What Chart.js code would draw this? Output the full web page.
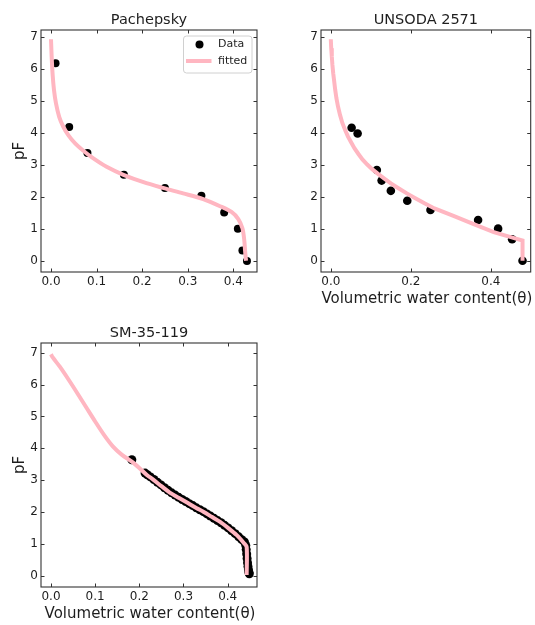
<!DOCTYPE html>
<html>
<head>
<meta charset="utf-8">
<script src="https://cdn.jsdelivr.net/npm/chart.js@4.4.1/dist/chart.umd.min.js"></script>
<style>
  html, body { margin: 0; padding: 0; background: #fff; overflow: hidden; }
  #wrap { position: relative; width: 535px; height: 625px; }
  canvas { position: absolute; left: 0; top: 0; }
</style>
</head>
<body>
<div id="wrap">
  <canvas id="c1" width="535" height="625"></canvas>
  <canvas id="c2" width="535" height="625"></canvas>
  <canvas id="c3" width="535" height="625"></canvas>
</div>
<script>
// Pachepsky
const pachTheta = [0.01, 0.04, 0.08, 0.16, 0.25, 0.33, 0.38, 0.41, 0.42, 0.43];
const pachPF = [6.17, 4.18, 3.37, 2.69, 2.28, 2.04, 1.51, 1.01, 0.33, 0.0];
const pachFitTheta = [0.0, 0.0015, 0.0037, 0.0066, 0.011, 0.018, 0.027, 0.038, 0.053, 0.071, 0.093, 0.122, 0.159, 0.203, 0.246, 0.29, 0.334, 0.371, 0.396, 0.411, 0.42, 0.424, 0.426, 0.428];
const pachFitPF = [6.92, 6.38, 5.80, 5.34, 4.92, 4.50, 4.19, 3.93, 3.67, 3.44, 3.20, 2.94, 2.69, 2.46, 2.28, 2.11, 1.93, 1.71, 1.53, 1.31, 1.02, 0.66, 0.29, 0.01];

// UNSODA 2571
const unsTheta = [0.052, 0.067, 0.115, 0.127, 0.150, 0.191, 0.249, 0.368, 0.418, 0.453, 0.479];
const unsPF = [4.16, 3.98, 2.84, 2.51, 2.19, 1.88, 1.59, 1.28, 1.01, 0.68, 0.01];
const unsFitTheta = [0.0, 0.001, 0.0025, 0.004, 0.006, 0.0085, 0.011, 0.014, 0.018, 0.023, 0.029, 0.036, 0.043, 0.051, 0.059, 0.069, 0.079, 0.091, 0.104, 0.118, 0.133, 0.15, 0.169, 0.19, 0.21, 0.234, 0.259, 0.308, 0.357, 0.407, 0.456, 0.479, 0.479];
const unsFitPF = [6.92, 6.64, 6.38, 6.12, 5.86, 5.60, 5.34, 5.08, 4.82, 4.56, 4.30, 4.08, 3.88, 3.70, 3.52, 3.34, 3.17, 3.01, 2.86, 2.72, 2.58, 2.42, 2.27, 2.11, 1.97, 1.80, 1.64, 1.40, 1.15, 0.90, 0.72, 0.64, 0.01];

// SM-35-119
const smTheta = [0.183, 0.213, 0.218, 0.225, 0.233, 0.241, 0.249, 0.257, 0.265, 0.273, 0.281, 0.289, 0.297, 0.305, 0.313, 0.321, 0.329, 0.337, 0.345, 0.353, 0.361, 0.369, 0.377, 0.385, 0.393, 0.401, 0.409, 0.417, 0.425, 0.432, 0.438, 0.441, 0.442, 0.443, 0.444, 0.445, 0.446, 0.447, 0.448, 0.449];
const smPF = [3.64, 3.22, 3.17, 3.10, 3.02, 2.93, 2.85, 2.76, 2.68, 2.60, 2.53, 2.46, 2.39, 2.33, 2.26, 2.20, 2.13, 2.07, 2.01, 1.94, 1.87, 1.80, 1.73, 1.66, 1.58, 1.50, 1.41, 1.32, 1.22, 1.13, 1.06, 0.95, 0.82, 0.68, 0.54, 0.41, 0.29, 0.19, 0.11, 0.06];
const smFitTheta = [0.0, 0.004, 0.02, 0.04, 0.06, 0.08, 0.10, 0.12, 0.14, 0.16, 0.183, 0.2, 0.217, 0.23, 0.25, 0.269, 0.29, 0.31, 0.33, 0.345, 0.365, 0.383, 0.40, 0.42, 0.437, 0.443, 0.443];
const smFitPF = [6.95, 6.85, 6.56, 6.15, 5.72, 5.28, 4.84, 4.42, 4.06, 3.80, 3.58, 3.38, 3.16, 3.03, 2.81, 2.61, 2.44, 2.28, 2.12, 2.01, 1.84, 1.69, 1.51, 1.28, 1.02, 0.90, 0.02];

// tick values
const pfTicks = [0, 1, 2, 3, 4, 5, 6, 7];
const thetaTicksFine = [0.0, 0.1, 0.2, 0.3, 0.4];
const thetaTicksCoarse = [0.0, 0.2, 0.4];

const FONT = 'DejaVu Sans';
const INK = '#1e1e1e';
const PINK = '#ffb6c1';

function toPoints(xs, ys) {
    return xs.map((x, i) => ({ x: x, y: ys[i] }));
}

// box, inward ticks on 4 sides, title, axis labels, legend
const framePlugin = {
    id: 'frame',
    afterDraw(chart, args, opts) {
        const ctx = chart.ctx;
        const a = chart.chartArea;
        const xs = chart.scales.x, ys = chart.scales.y;
        const tl = 3.5;
        ctx.save();
        ctx.strokeStyle = '#333';
        ctx.lineWidth = 1;
        ctx.beginPath();
        xs.ticks.forEach(t => {
            const px = Math.round(xs.getPixelForValue(t.value)) + 0.5;
            ctx.moveTo(px, a.bottom); ctx.lineTo(px, a.bottom - tl);
            ctx.moveTo(px, a.top); ctx.lineTo(px, a.top + tl);
        });
        ys.ticks.forEach(t => {
            const py = Math.round(ys.getPixelForValue(t.value)) + 0.5;
            ctx.moveTo(a.left, py); ctx.lineTo(a.left + tl, py);
            ctx.moveTo(a.right, py); ctx.lineTo(a.right - tl, py);
        });
        ctx.stroke();
        ctx.lineWidth = 1.1;
        ctx.strokeRect(a.left, a.top, a.right - a.left, a.bottom - a.top);

        ctx.fillStyle = INK;
        ctx.textAlign = 'center';
        ctx.textBaseline = 'alphabetic';
        ctx.font = '14.5px "' + FONT + '"';
        ctx.fillText(opts.title, (a.left + a.right) / 2, a.top - 6.5);

        ctx.font = '15px "' + FONT + '"';
        ctx.textBaseline = 'middle';
        if (opts.xlabel) {
            ctx.fillText(opts.xlabel, (a.left + a.right) / 2 + 1, a.bottom + 27.5);
        }
        if (opts.ylabel) {
            ctx.save();
            ctx.translate(a.left - 21, (a.top + a.bottom) / 2);
            ctx.rotate(-Math.PI / 2);
            ctx.fillText(opts.ylabel, 0, 0);
            ctx.restore();
        }

        if (opts.legend) {
            const ds = chart.data.datasets;
            const bx = a.right - 74, by = a.top + 5.5, bw = 68.5, bh = 37;
            ctx.fillStyle = 'rgba(255,255,255,0.8)';
            ctx.strokeStyle = '#d0d0d0';
            ctx.lineWidth = 1;
            ctx.beginPath();
            ctx.roundRect(bx + 0.5, by + 0.5, bw, bh, 3);
            ctx.fill();
            ctx.stroke();
            ctx.font = '11px "' + FONT + '"';
            ctx.textAlign = 'left';
            ctx.textBaseline = 'middle';
            // Data
            ctx.fillStyle = ds[0].backgroundColor;
            ctx.beginPath();
            ctx.arc(bx + 16.5, by + 9, 4, 0, Math.PI * 2);
            ctx.fill();
            ctx.fillStyle = INK;
            ctx.fillText(ds[0].label, bx + 35, by + 9);
            // fitted
            ctx.strokeStyle = ds[1].borderColor;
            ctx.lineWidth = ds[1].borderWidth;
            ctx.beginPath();
            ctx.moveTo(bx + 3, by + 25.5);
            ctx.lineTo(bx + 28.5, by + 25.5);
            ctx.stroke();
            ctx.fillStyle = INK;
            ctx.fillText(ds[1].label, bx + 35, by + 25.5);
        }
        ctx.restore();
    }
};

function makePanel(id, cfg) {
    const ctx = document.getElementById(id).getContext('2d');
    return new Chart(ctx, {
        type: 'scatter',
        data: {
            datasets: [{
                label: 'Data',
                data: toPoints(cfg.dataX, cfg.dataY),
                backgroundColor: '#000',
                borderColor: '#000',
                pointRadius: cfg.pointRadius,
                pointBorderWidth: 0,
                order: 2
            }, {
                label: 'fitted',
                type: 'line',
                data: toPoints(cfg.fitX, cfg.fitY),
                borderColor: PINK,
                backgroundColor: PINK,
                borderWidth: 4,
                pointRadius: 0,
                tension: cfg.tension,
                fill: false,
                order: 1
            }]
        },
        options: {
            responsive: false,
            animation: false,
            events: [],
            layout: { padding: cfg.padding },
            scales: {
                x: {
                    type: 'linear',
                    min: cfg.xMin,
                    max: cfg.xMax,
                    grid: { display: false, drawTicks: false },
                    border: { display: false },
                    afterBuildTicks: s => { s.ticks = cfg.xTicks.map(v => ({ value: v })); },
                    afterFit: s => { s.height = 30; },
                    ticks: {
                        padding: 3,
                        color: INK,
                        font: { family: FONT, size: 12 },
                        callback: v => v.toFixed(1)
                    }
                },
                y: {
                    type: 'linear',
                    min: cfg.yMin,
                    max: cfg.yMax,
                    grid: { display: false, drawTicks: false },
                    border: { display: false },
                    afterBuildTicks: s => { s.ticks = pfTicks.map(v => ({ value: v })); },
                    afterFit: s => { s.width = 41; },
                    ticks: {
                        padding: 3,
                        color: INK,
                        font: { family: FONT, size: 12 },
                        callback: v => String(v)
                    }
                }
            },
            plugins: {
                legend: { display: false },
                tooltip: { enabled: false },
                frame: {
                    title: cfg.title,
                    xlabel: cfg.xlabel,
                    ylabel: cfg.ylabel,
                    legend: cfg.legend
                }
            }
        },
        plugins: [framePlugin]
    });
}

document.addEventListener('DOMContentLoaded', () => {
    makePanel('c1', {
        title: 'Pachepsky', ylabel: 'pF', xlabel: '', legend: true,
        dataX: pachTheta, dataY: pachPF, fitX: pachFitTheta, fitY: pachFitPF,
        pointRadius: 4, tension: 0.3,
        xMin: -0.0219, xMax: 0.452, yMin: -0.343, yMax: 7.209,
        xTicks: thetaTicksFine,
        padding: { left: 0, top: 30, right: 278, bottom: 323 }
    });
    makePanel('c2', {
        title: 'UNSODA 2571', ylabel: '', xlabel: 'Volumetric water content(\u03b8)', legend: false,
        dataX: unsTheta, dataY: unsPF, fitX: unsFitTheta, fitY: unsFitPF,
        pointRadius: 4.3, tension: 0,
        xMin: -0.0245, xMax: 0.4994, yMin: -0.343, yMax: 7.209,
        xTicks: thetaTicksCoarse,
        padding: { left: 280, top: 30, right: 0.5, bottom: 323 }
    });
    makePanel('c3', {
        title: 'SM-35-119', ylabel: 'pF', xlabel: 'Volumetric water content(\u03b8)', legend: false,
        dataX: smTheta, dataY: smPF, fitX: smFitTheta, fitY: smFitPF,
        pointRadius: 4.5, tension: 0.3,
        xMin: -0.0226, xMax: 0.4664, yMin: -0.355, yMax: 7.304,
        xTicks: thetaTicksFine,
        padding: { left: 0, top: 343, right: 278, bottom: 8 }
    });
});
</script>
</body>
</html>
